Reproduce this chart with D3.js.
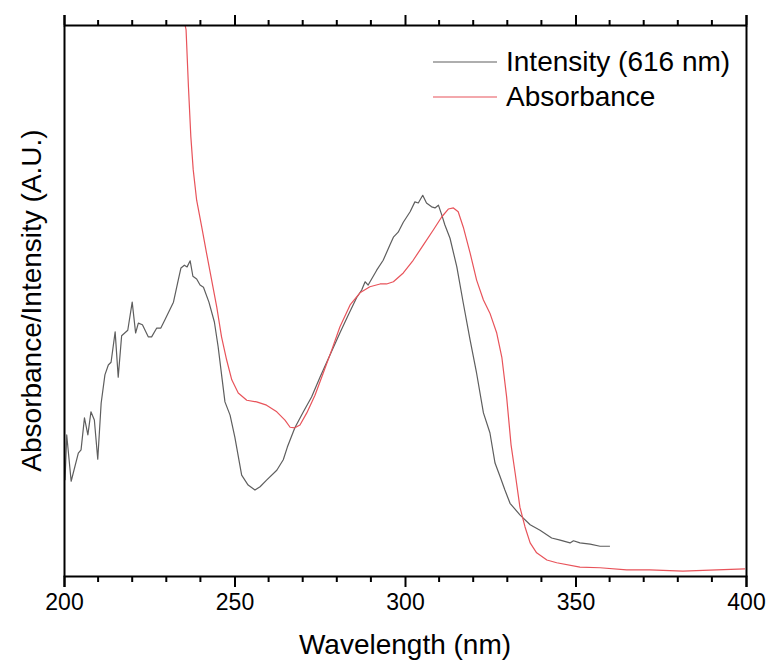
<!DOCTYPE html>
<html>
<head>
<meta charset="utf-8">
<script src="https://cdn.jsdelivr.net/npm/d3@7"></script>
<style>
  body { margin: 0; background: #fff; }
  text { font-family: "Liberation Sans", Arial, sans-serif; fill: #000; }
</style>
</head>
<body>
<div id="chart"></div>
<script>
// emission intensity monitored at 616 nm
var intensityWl = [200.3, 200.8, 202.1, 204.2, 205.0, 206.0, 207.0, 207.9, 208.9, 209.9,
    210.9, 212.0, 213.0, 213.8, 215.0, 215.9, 216.9, 218.7, 220.0, 221.0,
    221.8, 223.0, 224.7, 225.7, 227.2, 228.4, 229.6, 232.1, 233.5, 234.3,
    235.3, 236.1, 237.0, 237.8, 238.9, 239.9, 240.9, 242.5, 244.1, 245.2,
    246.4, 247.2, 248.7, 250.1, 252.1, 254.0, 256.0, 257.5, 259.4, 262.4,
    264.3, 265.5, 267.7, 270.2, 272.6, 275.1, 278.0, 280.9, 283.4, 285.8,
    287.3, 288.3, 289.2, 291.7, 293.6, 295.6, 296.6, 298.0, 299.5, 301.5,
    302.9, 303.9, 305.2, 306.3, 307.8, 308.8, 309.8, 310.8, 311.7, 313.2,
    315.2, 317.1, 319.1, 321.0, 323.0, 324.9, 326.4, 327.9, 329.3, 330.8,
    333.7, 336.7, 339.6, 343.0, 345.5, 348.4, 349.4, 351.3, 354.3, 357.2, 360.1];
var intensityVal = [0.174, 0.256, 0.172, 0.223, 0.229, 0.287, 0.256, 0.298, 0.283, 0.212,
    0.314, 0.365, 0.383, 0.388, 0.443, 0.361, 0.436, 0.446, 0.497, 0.441,
    0.459, 0.456, 0.434, 0.434, 0.450, 0.450, 0.465, 0.497, 0.537, 0.559,
    0.564, 0.561, 0.572, 0.544, 0.539, 0.528, 0.524, 0.497, 0.461, 0.416,
    0.356, 0.316, 0.292, 0.252, 0.183, 0.165, 0.156, 0.162, 0.174, 0.192,
    0.211, 0.234, 0.269, 0.298, 0.325, 0.361, 0.401, 0.441, 0.474, 0.505,
    0.519, 0.534, 0.528, 0.555, 0.573, 0.601, 0.615, 0.624, 0.642, 0.661,
    0.679, 0.677, 0.691, 0.677, 0.670, 0.668, 0.673, 0.655, 0.637, 0.613,
    0.561, 0.495, 0.428, 0.368, 0.296, 0.260, 0.205, 0.180, 0.156, 0.132,
    0.111, 0.093, 0.083, 0.069, 0.065, 0.060, 0.064, 0.060, 0.058, 0.054, 0.054];

// absorbance spectrum
var absorbWl = [235.3, 235.5, 235.8, 236.5, 237.2, 237.9, 238.9, 240.4, 241.8, 243.3,
    244.8, 246.2, 247.7, 249.2, 251.1, 253.6, 256.5, 259.4, 262.4, 264.8,
    266.3, 267.7, 269.2, 271.2, 273.6, 276.0, 278.5, 280.9, 283.9, 286.8,
    289.7, 292.7, 294.6, 296.6, 299.5, 302.4, 305.4, 308.3, 310.8, 312.7,
    314.2, 315.6, 317.1, 319.1, 321.0, 323.0, 324.9, 326.9, 328.4, 329.8,
    331.1, 332.3, 333.7, 335.2, 336.7, 338.6, 341.6, 344.5, 351.3, 357.2,
    365.0, 371.8, 381.5, 391.4, 399.7];
var absorbVal = [1.04, 1.0, 0.991, 0.887, 0.797, 0.737, 0.682, 0.633, 0.586, 0.537,
    0.488, 0.434, 0.392, 0.356, 0.332, 0.319, 0.316, 0.310, 0.298, 0.283,
    0.270, 0.269, 0.274, 0.296, 0.328, 0.368, 0.410, 0.452, 0.492, 0.514,
    0.525, 0.530, 0.530, 0.534, 0.550, 0.573, 0.601, 0.628, 0.652, 0.666,
    0.668, 0.661, 0.633, 0.586, 0.537, 0.501, 0.477, 0.441, 0.397, 0.325,
    0.238, 0.187, 0.125, 0.089, 0.060, 0.042, 0.029, 0.024, 0.016, 0.015,
    0.011, 0.011, 0.009, 0.011, 0.013];

var xTicks = [200, 250, 300, 350, 400];
var seriesNames = ['Intensity (616 nm)', 'Absorbance'];
var seriesColors = ['#5e5e5e', '#e8535a'];

var width = 767, height = 660;
var margin = { top: 25, right: 21, bottom: 84, left: 64 };

var svg = d3.select('#chart').append('svg')
    .attr('width', width)
    .attr('height', height);

var x = d3.scaleLinear().domain([200, 400]).range([margin.left, width - margin.right]);
var y = d3.scaleLinear().domain([0, 1]).range([height - margin.bottom, margin.top]);

svg.append('clipPath').attr('id', 'plot')
    .append('rect')
    .attr('x', margin.left).attr('y', margin.top)
    .attr('width', width - margin.left - margin.right)
    .attr('height', height - margin.top - margin.bottom);

var line = d3.line()
    .x(function (d) { return x(d[0]); })
    .y(function (d) { return y(d[1]); });

var series = [d3.zip(intensityWl, intensityVal), d3.zip(absorbWl, absorbVal)];
series.forEach(function (pts, i) {
    svg.append('path')
        .datum(pts)
        .attr('clip-path', 'url(#plot)')
        .attr('fill', 'none')
        .attr('stroke', seriesColors[i])
        .attr('stroke-width', 1.2)
        .attr('stroke-linejoin', 'round')
        .attr('d', line);
});

var minorTicks = d3.range(200, 401, 10).filter(function (v) { return v % 50 != 0; });

// bottom axis
var bottomAxis = svg.append('g')
    .attr('transform', 'translate(0,' + (height - margin.bottom) + ')')
    .call(d3.axisBottom(x).tickValues(xTicks).tickSize(11).tickPadding(7).tickFormat(d3.format('d')));
bottomAxis.selectAll('text').style('font-size', '23px');
bottomAxis.append('g').selectAll('line').data(minorTicks).join('line')
    .attr('x1', x).attr('x2', x).attr('y1', 0).attr('y2', 6)
    .attr('stroke', '#000').attr('stroke-width', 2);

// top axis, ticks only
var topAxis = svg.append('g')
    .attr('transform', 'translate(0,' + margin.top + ')')
    .call(d3.axisTop(x).tickValues(xTicks).tickSize(10).tickFormat(''));
topAxis.append('g').selectAll('line').data(minorTicks).join('line')
    .attr('x1', x).attr('x2', x).attr('y1', 0).attr('y2', -5)
    .attr('stroke', '#000').attr('stroke-width', 2);

// left and right axes, no ticks
svg.append('g')
    .attr('transform', 'translate(' + margin.left + ',0)')
    .call(d3.axisLeft(y).tickValues([]).tickSizeOuter(0));
svg.append('g')
    .attr('transform', 'translate(' + (width - margin.right) + ',0)')
    .call(d3.axisRight(y).tickValues([]).tickSizeOuter(0));

svg.selectAll('.domain, .tick line')
    .attr('stroke', '#000')
    .attr('stroke-width', 2);

// axis titles
svg.append('text')
    .attr('x', (margin.left + width - margin.right) / 2)
    .attr('y', 654)
    .attr('text-anchor', 'middle')
    .style('font-size', '28px')
    .text('Wavelength (nm)');

svg.append('text')
    .attr('transform', 'translate(41,' + (margin.top + height - margin.bottom) / 2 + ') rotate(-90)')
    .attr('text-anchor', 'middle')
    .style('font-size', '28px')
    .text('Absorbance/Intensity (A.U.)');

// legend
var legend = svg.append('g').attr('transform', 'translate(433,62)');
seriesNames.forEach(function (name, i) {
    legend.append('line')
        .attr('x1', 0).attr('x2', 64)
        .attr('y1', i * 35).attr('y2', i * 35)
        .attr('stroke', seriesColors[i])
        .attr('stroke-width', 1.2);
    legend.append('text')
        .attr('x', 73)
        .attr('y', i * 35 + 9)
        .style('font-size', '28px')
        .text(name);
});
</script>
</body>
</html>
